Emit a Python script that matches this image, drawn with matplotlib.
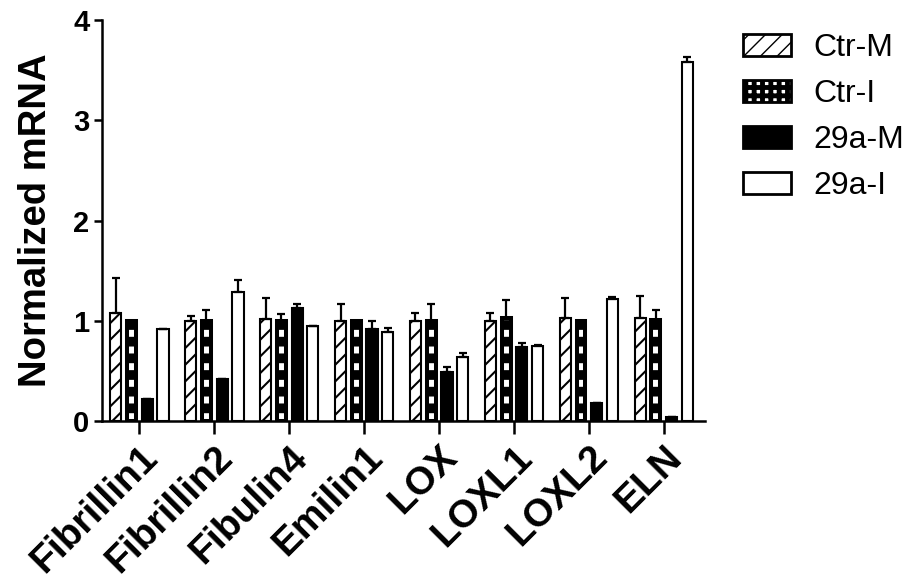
import numpy as np
import matplotlib
matplotlib.use('Agg')
import matplotlib.pyplot as plt
import matplotlib.transforms as mtransforms

# data
genes = ['Fibrillin1', 'Fibrillin2', 'Fibulin4', 'Emilin1', 'LOX', 'LOXL1', 'LOXL2', 'ELN']
groups = ['Ctr-M', 'Ctr-I', '29a-M', '29a-I']

ctr_m = [1.08, 1.00, 1.02, 1.00, 1.00, 1.00, 1.03, 1.03]
ctr_m_err = [0.35, 0.05, 0.21, 0.17, 0.08, 0.08, 0.20, 0.22]
ctr_i = [1.00, 1.00, 1.00, 1.00, 1.00, 1.03, 1.00, 1.01]
ctr_i_err = [0.0, 0.11, 0.07, 0.0, 0.17, 0.18, 0.0, 0.10]
m29a = [0.22, 0.42, 1.13, 0.92, 0.49, 0.74, 0.18, 0.04]
m29a_err = [0.0, 0.0, 0.04, 0.08, 0.05, 0.04, 0.0, 0.0]
i29a = [0.92, 1.29, 0.95, 0.89, 0.64, 0.75, 1.22, 3.58]
i29a_err = [0.0, 0.12, 0.0, 0.04, 0.04, 0.01, 0.02, 0.05]

values = [ctr_m, ctr_i, m29a, i29a]
errors = [ctr_m_err, ctr_i_err, m29a_err, i29a_err]

plt.rcParams['font.family'] = ['Liberation Sans', 'DejaVu Sans']
plt.rcParams['hatch.color'] = 'black'

fig = plt.figure(figsize=(9.14, 5.85), dpi=100)
ax = fig.add_axes([0.1116, 0.2803, 0.6597, 0.6855])

x = np.arange(len(genes))
step = 0.21
# style per group: facecolor, hatch, width, edge lw, hatch lw
styles = [
    ('white', '//', 0.15, 1.5, 1.5),
    ('white', '-', 0.12, 2.9, 7.0),
    ('black', None, 0.15, 1.5, 1.0),
    ('white', None, 0.15, 1.5, 1.0),
]

handles = []
for k in range(4):
    fc, hatch, w, lw, hlw = styles[k]
    pos = x + (k - 1.5) * step
    bars = ax.bar(pos, values[k], width=w, color=fc, edgecolor='black',
                  linewidth=lw, hatch=hatch, label=groups[k], zorder=2)
    for b in bars:
        if hasattr(b, 'set_hatch_linewidth'):
            b.set_hatch_linewidth(hlw)
    ax.errorbar(pos, values[k], yerr=[np.zeros(len(genes)), errors[k]],
                fmt='none', ecolor='black', elinewidth=1.6, capsize=3.2,
                capthick=1.6, zorder=3)
    handles.append(bars)

ax.set_xlim(-0.5, 7.55)
ax.set_ylim(0, 4)
ax.set_yticks([0, 1, 2, 3, 4])
ax.set_xticks(x)
ax.set_xticklabels(genes, rotation=45, ha='right', va='top',
                   rotation_mode='anchor', fontsize=28, fontweight='bold')
shift = mtransforms.ScaledTranslation(-6 / 100, 0, fig.dpi_scale_trans)
for lab in ax.get_xticklabels():
    lab.set_transform(lab.get_transform() + shift)
for lab in ax.get_yticklabels():
    lab.set_fontsize(21)
    lab.set_fontweight('bold')
ax.set_ylabel('Normalized mRNA', fontsize=27.5, fontweight='bold', labelpad=14)

for s in ['top', 'right']:
    ax.spines[s].set_visible(False)
for s in ['left', 'bottom']:
    ax.spines[s].set_linewidth(1.8)
ax.tick_params(axis='y', length=6, width=1.8, pad=3)
ax.tick_params(axis='x', length=9, width=1.8, pad=4)

leg = fig.legend(handles, groups, loc='upper left', bbox_to_anchor=(0.813, 0.943),
                 frameon=False, fontsize=23, handlelength=1.5, handleheight=0.7,
                 handletextpad=0.7, labelspacing=0.5, borderpad=0,
                 borderaxespad=0)
# checkered key for Ctr-I, like the original
ci = leg.legend_handles[1]
ci.set_linewidth(2.0)
ci.set_facecolor('white')
ci.set_hatch('++')
if hasattr(ci, 'set_hatch_linewidth'):
    ci.set_hatch_linewidth(3.5)
for h in (leg.legend_handles[0], leg.legend_handles[2], leg.legend_handles[3]):
    h.set_linewidth(2.0)

plt.savefig('out.png', dpi=100)
